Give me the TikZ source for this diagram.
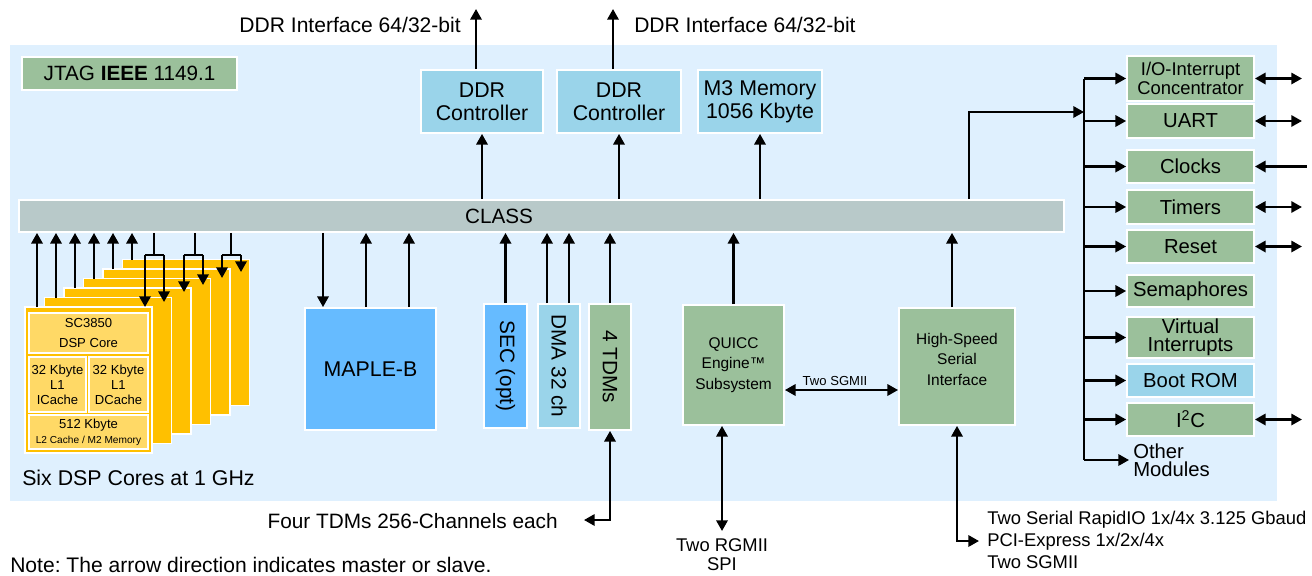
\documentclass[tikz,border=0pt]{standalone}
\usepackage{fontspec}
\setmainfont{Liberation Sans}
\usepackage{tikz}
\usetikzlibrary{positioning}
\usetikzlibrary{arrows.meta}

\definecolor{chipbg}{HTML}{DFF0FE}
\definecolor{blkgreen}{HTML}{9BC09B}
\definecolor{blkblue}{HTML}{9AD4EA}
\definecolor{blkbright}{HTML}{66BBFF}
\definecolor{blkgray}{HTML}{B8C9C9}
\definecolor{coreorange}{HTML}{FFC000}
\definecolor{corelight}{HTML}{FFD966}

\newcommand{\fsz}[2]{\fontsize{#1}{#2}\selectfont}
\frenchspacing

\tikzset{
  blk/.style={draw=white, line width=1.4pt, inner sep=0pt, align=center},
  lbl/.style={inner sep=0pt, align=center},
  bus/.style={line width=1.7pt},
  span/.style n args={4}{at={({((#1)+(#3))/2},{((#2)+(#4))/2})},
      minimum width={((#3)-(#1))*0.75pt}, minimum height={((#4)-(#2))*0.75pt}},
}

\begin{document}
\begin{tikzpicture}[x=0.75pt, y=-0.75pt, >={Triangle[length=8pt,width=8.5pt]}]
		\useasboundingbox (0,0) rectangle (1312,575);
		% chip background
		\fill[chipbg] (10,45) rectangle (1277,501);

		% JTAG and CLASS
		\node[blk, fill=blkgreen, span={22}{57}{237}{90}, font=\fsz{15.5}{17}] (jtag) {JTAG \textbf{IEEE} 1149.1};
		\node[blk, fill=blkgray, span={19}{200}{1064}{232}] (class) {};
		\node[lbl, font=\fsz{15.5}{18}] (classtxt) at (499,216) {CLASS};

		% DDR controllers and M3
		\node[blk, fill=blkblue, span={421}{70}{543}{133}, font=\fsz{16}{17}] (ddra) {DDR\\Controller};
		\node[blk, fill=blkblue, span={557}{70}{681}{133}, font=\fsz{16}{17}] (ddrb) {DDR\\Controller};
		\node[blk, fill=blkblue, span={698}{70}{822}{133}, font=\fsz{16}{17}] (mthree) {M3 Memory\\1056 Kbyte};
		\foreach \n in {ddra, ddrb, mthree} {
				\draw[bus, ->] (\n.south |- class.north) -- (\n.south);
			}
		\coordinate (ddrouta) at (476,9);
		\coordinate (ddroutb) at (613,9);
		\draw[bus, ->] (ddra.north -| ddrouta) -- (ddrouta);
		\draw[bus, ->] (ddrb.north -| ddroutb) -- (ddroutb);
		\node[lbl, anchor=east, font=\fsz{15.8}{18}] (ddrifa) at (461,25) {DDR Interface 64/32-bit};
		\node[lbl, anchor=west, font=\fsz{15.8}{18}] (ddrifb) at (634,25) {DDR Interface 64/32-bit};

		% Six stacked DSP cores (back to front)
		\foreach \i in {5,4,...,0} {
				\node[blk, fill=coreorange, span={25+19.5*\i}{307-9.5*\i}{152+19.5*\i}{453-9.5*\i}] (core\i) {};
			}
		\node[blk, fill=corelight, span={29}{313}{148}{353}, font=\fsz{9.8}{15}] (dspcore) {SC3850\\DSP Core};
		\node[blk, fill=corelight, span={29}{357}{86}{412}, font=\fsz{9.8}{11.3}] (icache) {32 Kbyte\\L1\\ICache};
		\node[blk, fill=corelight, span={89}{357}{148}{412}, font=\fsz{9.8}{11.3}] (dcache) {32 Kbyte\\L1\\DCache};
		\node[blk, fill=corelight, span={29}{415}{148}{449}, font=\fsz{9.8}{11}] (ltwo) {512 Kbyte\\{\fsz{7.6}{9}L2 Cache / M2 Memory}};
		\node[lbl, anchor=west, font=\fsz{16}{18}] (coretxt) at (22,478) {Six DSP Cores at 1 GHz};

		% core masters up to CLASS
		\foreach \i in {0,...,5} {
				\coordinate (cup\i) at (37+19*\i,307-9.5*\i);
				\draw[bus, ->] (cup\i) -- (cup\i |- class.south);
			}
		% CLASS down to cores, in pairs
		\foreach \k/\xm/\xl/\yl/\xr/\yr in {0/154/145/307/164/302, 1/195/184/292/203/285, 2/231/222/278/241/272} {
				\coordinate (split\k) at (\xm,255);
				\coordinate (cdl\k) at (\xl,\yl);
				\coordinate (cdr\k) at (\xr,\yr);
				\draw[bus] (split\k |- class.south) -- (split\k);
				\draw[bus] (cdl\k |- split\k) -- (cdr\k |- split\k);
				\draw[bus, ->] (cdl\k |- split\k) -- (cdl\k);
				\draw[bus, ->] (cdr\k |- split\k) -- (cdr\k);
			}

		% MAPLE-B, SEC, DMA, TDMs
		\node[blk, fill=blkbright, span={305}{308}{436}{430}, font=\fsz{16}{18}] (maple) {MAPLE-B};
		\node[blk, fill=blkbright, span={484}{304}{527}{428}] (sec) {};
		\node[blk, fill=blkblue, span={538}{304}{580}{428}] (dma) {};
		\node[blk, fill=blkgreen, span={589}{304}{631}{430}] (tdms) {};
		\foreach \n/\t in {sec/SEC (opt), dma/DMA 32 ch, tdms/4 TDMs} {
				\node[lbl, rotate=-90, font=\fsz{15.6}{18}] (\n txt) at (\n.center) {\t};
			}
		\draw[bus, ->] (323,0 |- class.south) -- (323,0 |- maple.north);
		\foreach \x in {366, 409} {
				\draw[bus, ->] (\x,0 |- maple.north) -- (\x,0 |- class.south);
			}
		\draw[bus, ->] (sec.north) -- (sec.north |- class.south);
		\foreach \x in {547, 569} {
				\draw[bus, ->] (\x,0 |- dma.north) -- (\x,0 |- class.south);
			}
		\draw[bus, ->] (tdms.north) -- (tdms.north |- class.south);
		\coordinate (tdmend) at (584,520);
		\draw[bus, <->] (tdms.south) |- (tdmend);
		\node[lbl, anchor=east, font=\fsz{15.6}{18}] (fourtdm) at (558,521) {Four TDMs 256-Channels each};

		% QUICC Engine and serial interface
		\node[blk, fill=blkgreen, span={683}{305}{784}{425}, font=\fsz{11.6}{15.5}] (quicc) {QUICC\\Engine™\\Subsystem};
		\node[blk, fill=blkgreen, span={899}{308}{1015}{425}, font=\fsz{11.6}{15.5}, text depth=11pt] (hssi) {High-Speed\\Serial\\Interface};
		\draw[bus, ->] (quicc.north) -- (quicc.north |- class.south);
		\draw[bus, ->] (952,0 |- hssi.north) -- (952,0 |- class.south);
		\coordinate (sgmii) at (835,390);
		\draw[bus, <->] (quicc.east |- sgmii) -- (hssi.west |- sgmii);
		\node[lbl, above=3pt of sgmii, font=\fsz{9.8}{11}] (sgmiitxt) {Two SGMII};
		\coordinate (rgmiiend) at (722,531);
		\draw[bus, <->] (quicc.south -| rgmiiend) -- (rgmiiend);
		\node[lbl, anchor=north, font=\fsz{13.8}{14.5}] (rgmiitxt) at (722,538) {Two RGMII\\SPI};
		\coordinate (srioend) at (979,541);
		\draw[bus, <->] (957,0 |- hssi.south) |- (srioend);
		\node[lbl, anchor=west, align=left, font=\fsz{13.8}{16.3}] (srio) at (987,540) {Two Serial RapidIO 1x/4x 3.125 Gbaud\\PCI-Express 1x/2x/4x\\Two SGMII};

		% peripheral column
		\node[blk, fill=blkgreen, span={1127}{56}{1254}{101}, font=\fsz{13.8}{14.5}] (io) {I/O-Interrupt\\Concentrator};
		\foreach \n/\ya/\yb/\c/\t in {uart/104/138/blkgreen/UART, clocks/150/183/blkgreen/Clocks, timers/190/224/blkgreen/Timers, reset/230/263/blkgreen/Reset, sema/275/307/blkgreen/Semaphores, virt/317/358/blkgreen/{Virtual\\Interrupts}, boot/364/397/blkblue/Boot ROM, iic/403/436/blkgreen/{I\textsuperscript{2}C}} {
				\node[blk, fill=\c, span={1127}{\ya}{1254}{\yb}, font=\fsz{15.2}{13.5}] (\n) {\t};
			}
		\node[lbl, anchor=west, align=left, font=\fsz{15.2}{13.5}] (others) at (1133,460) {Other\\Modules};
		\coordinate (busx) at (1084,0);
		\draw[bus] (busx |- io.west) -- (busx |- others.west);
		\foreach \n in {io, uart, clocks, timers, reset, sema, virt, boot, iic} {
				\draw[bus, ->] (busx |- \n.west) -- (\n.west);
			}
		\draw[bus, ->] (busx |- others.west) -- ([xshift=-3pt]others.west);
		\draw[bus, ->] (969,0 |- class.north) |- (busx |- 0,112);
		\foreach \n in {io, uart, timers, reset, iic} {
				\draw[bus, <->] (\n.east) -- ++(47,0);
			}
		\draw[bus, <-] (clocks.east) -- ++(52,0);

		\node[lbl, anchor=west, font=\fsz{15.8}{18}] (note) at (10,565) {Note: The arrow direction indicates master or slave.};
	\end{tikzpicture}
\end{document}
